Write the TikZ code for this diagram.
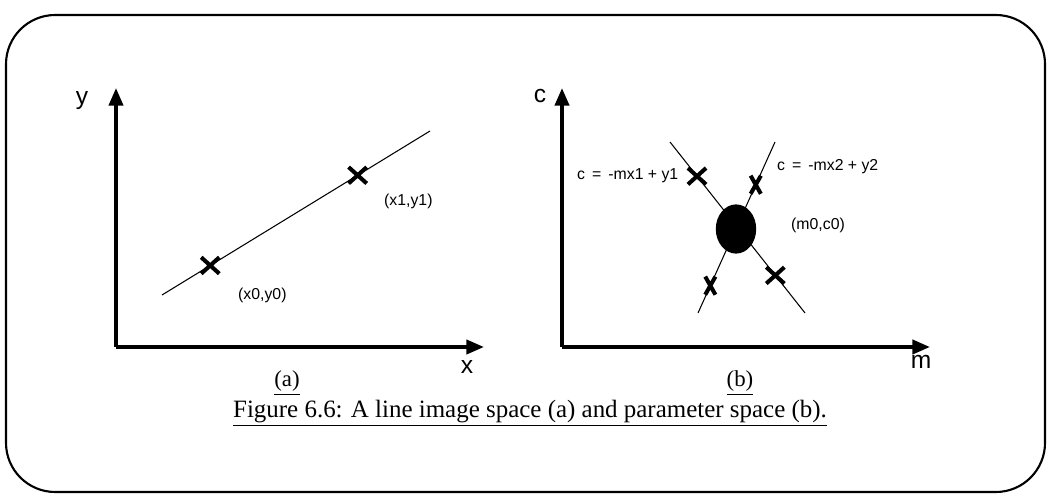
\documentclass[tikz,border=0pt]{standalone}
\usepackage{fontspec}
\setmainfont{Liberation Serif}
\setsansfont{Liberation Sans}
\usetikzlibrary{arrows.meta, positioning, shapes.geometric, shapes.misc}

\begin{document}
\begin{tikzpicture}[x=0.02cm, y=-0.02cm,
  every node/.style={font=\sffamily\fontsize{9}{11}\selectfont},
  axis/.style={line width=2.1pt, -{Triangle[length=10pt, width=8pt]}},
  axlabel/.style={font=\sffamily\fontsize{14}{16}\selectfont},
  sublabel/.style={font=\rmfamily\fontsize{13}{15}\selectfont},
  hline/.style={line width=0.6pt},
  crossmark/.style={cross out, draw, line width=2.3pt, minimum width=8pt, minimum height=7pt, inner sep=0pt},
  thincross/.style={cross out, draw, line width=2.3pt, minimum width=3.5pt, minimum height=8pt, inner sep=0pt},
]
\useasboundingbox (0,0) rectangle (1050,496);
\draw[line width=1.2pt, rounded corners=28pt] (6,15) rectangle (1045,492);

% image space (a)
\coordinate (oa) at (116,347);
\coordinate (ya) at (116,88);
\coordinate (xa) at (484,347);
\draw[axis] (oa) -- (ya);
\draw[axis] (oa) -- (xa);
\node[axlabel] (ylab) at (82,101) {y};
\node[axlabel] (xlab) at (467,367) {x};
\node[sublabel] (suba) at (287,383) {\underline{(a)}};

\coordinate (la0) at (162,295);
\coordinate (la1) at (430,131);
\draw[hline] (la0) -- (la1)
  node[crossmark, pos=0.18] (p0) {}
  node[crossmark, pos=0.73] (p1) {};
\node[anchor=west] (p0lab) at (232,295) {(x0,y0)};
\node[anchor=west] (p1lab) at (378,201) {(x1,y1)};

% parameter space (b)
\coordinate (ob) at (562,347);
\coordinate (cb) at (562,88);
\coordinate (mb) at (930,347);
\draw[axis] (ob) -- (cb);
\draw[axis] (ob) -- (mb);
\node[axlabel] (clab) at (540,96) {c};
\node[axlabel] (mlab) at (921,362) {m};
\node[sublabel] (subb) at (740,383) {\underline{(b)}};

\coordinate (l1a) at (670,142);
\coordinate (l1b) at (805,313);
\coordinate (l2a) at (775,142);
\coordinate (l2b) at (698,313);
\draw[hline] (l1a) -- (l1b)
  node[crossmark, pos=0.2] (q1) {}
  node[crossmark, pos=0.78] (q2) {};
\draw[hline] (l2a) -- (l2b)
  node[thincross, pos=0.25] (r1) {}
  node[thincross, pos=0.84] (r2) {};
\node[ellipse, fill=black, minimum width=23pt, minimum height=28pt, inner sep=0pt] (mc) at (736,229) {};
\node[anchor=west] (l1lab) at (571,176) {c \,=\, -mx1 + y1};
\node[anchor=west] (l2lab) at (771,167) {c \,=\, -mx2 + y2};
\node[anchor=west] (mclab) at (785,225) {(m0,c0)};

\node[font=\rmfamily\fontsize{14.2}{16}\selectfont] (caption) at (530,413) {\underline{Figure 6.6: A line image space (a) and parameter space (b).}};
\end{tikzpicture}
\end{document}
